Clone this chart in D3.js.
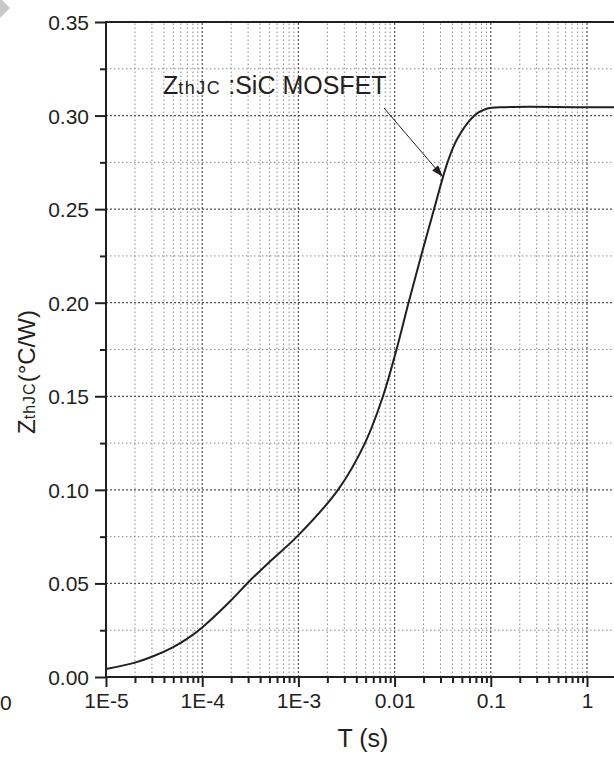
<!DOCTYPE html>
<html>
<head>
<meta charset="utf-8">
<script src="https://cdn.jsdelivr.net/npm/d3@7"></script>
<style>
  body { margin: 0; background: #fff; }
  svg { display: block; font-family: "Liberation Sans", Arial, sans-serif; }
</style>
</head>
<body>
<div id="chart"></div>
<script>
// data
var timeS = [1e-5, 2e-5, 3e-5, 5e-5, 7e-5, 1e-4, 2e-4, 3e-4, 5e-4, 9.66e-4, 2.58e-3,
             4.92e-3, 7.57e-3, 1.047e-2, 1.396e-2, 1.884e-2, 2.57e-2, 3.55e-2, 4.47e-2, 6.76e-2,
             8.91e-2, 0.141, 1, 10];
var zthJC = [0.0043, 0.0077, 0.0108, 0.0160, 0.0205, 0.0265, 0.0410, 0.0505, 0.0615, 0.075, 0.100,
             0.125, 0.150, 0.175, 0.200, 0.225, 0.250, 0.275, 0.2875, 0.300,
             0.3035, 0.3045, 0.3045, 0.3045];
var xTicks = [1e-5, 1e-4, 1e-3, 0.01, 0.1, 1];
var xTickLabels = ["1E-5", "1E-4", "1E-3", "0.01", "0.1", "1"];
var yTicks = [0, 0.05, 0.10, 0.15, 0.20, 0.25, 0.30, 0.35];
var yMinor = [0.025, 0.075, 0.125, 0.175, 0.225, 0.275, 0.325];

var W = 614, H = 757;
var svg = d3.select("#chart").append("svg").attr("width", W).attr("height", H);

var x = d3.scaleLog().domain([1e-5, 10]).range([106, 106 + 96.2 * 6]);
var y = d3.scaleLinear().domain([0, 0.35]).range([677, 22]);

// minor decade positions 2..9
var xMinor = [];
xTicks.slice(0, -1).forEach(function (d) {
    for (var k = 2; k <= 9; k++) xMinor.push(d * k);
});

var ink = "#231f20";

// grid
var grid = svg.append("g");
grid.selectAll(".xminor").data(xMinor).enter().append("line")
    .attr("x1", d => x(d)).attr("x2", d => x(d))
    .attr("y1", y(0)).attr("y2", y(0.35))
    .attr("stroke", "#8a8a8a").attr("stroke-width", 1).attr("stroke-dasharray", "1.5,2.5");
grid.selectAll(".yminor").data(yMinor).enter().append("line")
    .attr("x1", x(1e-5)).attr("x2", W)
    .attr("y1", d => y(d)).attr("y2", d => y(d))
    .attr("stroke", "#8a8a8a").attr("stroke-width", 1).attr("stroke-dasharray", "1.5,2.5");
grid.selectAll(".xmajor").data(xTicks.slice(1)).enter().append("line")
    .attr("x1", d => x(d)).attr("x2", d => x(d))
    .attr("y1", y(0)).attr("y2", y(0.35))
    .attr("stroke", "#555").attr("stroke-width", 1.2).attr("stroke-dasharray", "2,2");
grid.selectAll(".ymajor").data(yTicks.slice(1, -1)).enter().append("line")
    .attr("x1", x(1e-5)).attr("x2", W)
    .attr("y1", d => y(d)).attr("y2", d => y(d))
    .attr("stroke", "#555").attr("stroke-width", 1.2).attr("stroke-dasharray", "2,2");

// curve
var line = d3.line()
    .x(function (d, i) { return x(timeS[i]); })
    .y(function (d) { return y(d); })
    .curve(d3.curveCatmullRom.alpha(0.5));
svg.append("path")
    .datum(zthJC)
    .attr("d", line)
    .attr("fill", "none")
    .attr("stroke", ink)
    .attr("stroke-width", 2);

// axes
var xAxis = svg.append("g").attr("transform", "translate(0," + y(0) + ")")
    .call(d3.axisBottom(x).tickValues(xTicks).tickFormat((d, i) => xTickLabels[i]).tickSize(10).tickPadding(6));
var xAxisMinor = svg.append("g").attr("transform", "translate(0," + y(0) + ")")
    .call(d3.axisBottom(x).tickValues(xMinor).tickFormat("").tickSize(6));
var yAxis = svg.append("g").attr("transform", "translate(" + x(1e-5) + ",0)")
    .call(d3.axisLeft(y).tickValues(yTicks).tickFormat(d3.format(".2f")).tickSize(11).tickPadding(6));
var yAxisMinor = svg.append("g").attr("transform", "translate(" + x(1e-5) + ",0)")
    .call(d3.axisLeft(y).tickValues(yMinor).tickFormat("").tickSize(6));

[xAxis, xAxisMinor, yAxis, yAxisMinor].forEach(function (g) {
    g.select(".domain").remove();
    g.selectAll("line").attr("stroke", ink).attr("stroke-width", 2);
    g.selectAll("text").attr("fill", ink).style("font-size", "21px")
        .style("font-family", "'Liberation Sans', Arial, sans-serif");
});
yAxis.selectAll("text").attr("dy", "0.36em");

// frame lines
svg.append("line").attr("x1", x(1e-5)).attr("x2", x(1e-5)).attr("y1", y(0)).attr("y2", y(0.35))
    .attr("stroke", ink).attr("stroke-width", 2);
svg.append("line").attr("x1", x(1e-5) - 1).attr("x2", W).attr("y1", y(0)).attr("y2", y(0))
    .attr("stroke", ink).attr("stroke-width", 2);
svg.append("line").attr("x1", x(1e-5) - 1).attr("x2", W).attr("y1", y(0.35)).attr("y2", y(0.35))
    .attr("stroke", ink).attr("stroke-width", 2);

// axis titles
svg.append("text")
    .attr("x", 363).attr("y", 747)
    .attr("text-anchor", "middle")
    .attr("fill", ink)
    .style("font-size", "25px")
    .text("T (s)");

var yt = svg.append("text")
    .attr("transform", "translate(35,372) rotate(-90)")
    .attr("text-anchor", "middle")
    .attr("fill", ink)
    .style("font-size", "24px");
yt.append("tspan").text("Z");
yt.append("tspan").style("font-size", "16px").style("letter-spacing", "1px").text("thJC");
yt.append("tspan").text("(\u00B0C/W)");

// annotation
var ann = svg.append("text")
    .attr("x", 163).attr("y", 94)
    .attr("fill", ink)
    .style("font-size", "25px");
ann.append("tspan").text("Z");
ann.append("tspan").style("font-size", "18px").style("letter-spacing", "1.5px").text("thJC");
ann.append("tspan").text(" :SiC MOSFET");

svg.append("defs").append("marker")
    .attr("id", "arrow")
    .attr("viewBox", "0 0 12 8")
    .attr("refX", 12).attr("refY", 4)
    .attr("markerWidth", 14).attr("markerHeight", 8)
    .attr("markerUnits", "userSpaceOnUse")
    .attr("orient", "auto")
    .append("path").attr("d", "M0,0 L12,4 L0,8 Z").attr("fill", ink);
svg.append("line")
    .attr("x1", 384).attr("y1", 108)
    .attr("x2", 443).attr("y2", 177)
    .attr("stroke", ink).attr("stroke-width", 1)
    .attr("marker-end", "url(#arrow)");

// leftovers at the edges of the original page
svg.append("polygon").attr("points", "0,-2 10,8 0,18").attr("fill", "#c8c8c8");
svg.append("text").attr("x", 0).attr("y", 710)
    .attr("fill", ink).style("font-size", "21px").text("0");
</script>
</body>
</html>
